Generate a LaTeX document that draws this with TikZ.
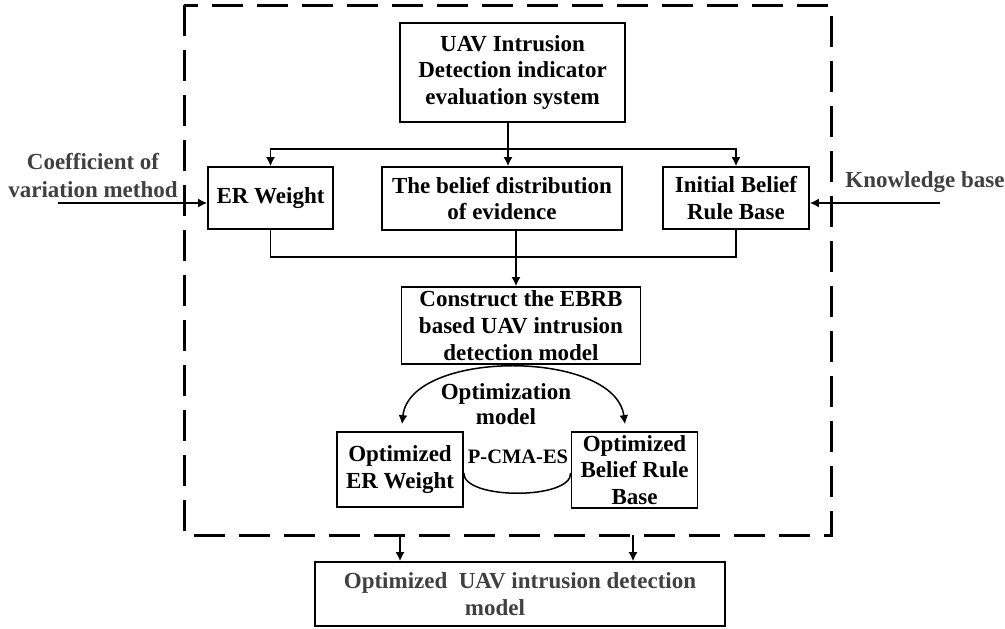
\documentclass[tikz,border=0pt]{standalone}
\usepackage{fontspec}
\setmainfont{Liberation Serif}
\usetikzlibrary{arrows.meta,calc}
\definecolor{txtgray}{HTML}{404040}
\begin{document}
\begin{tikzpicture}[x=1pt,y=-1pt,
  box/.style={draw,line width=1.7pt,inner sep=0pt,align=center,font=\bfseries\fontsize{23}{26.7}\selectfont},
  lbl/.style={inner sep=0pt,align=center,font=\bfseries\fontsize{23}{28}\selectfont},
  tip/.style={Latex[length=9pt,width=9pt]},
  arr/.style={line width=1.5pt,-{Latex[length=9pt,width=9pt]}},
  darr/.style={line width=1.5pt,{Latex[length=9pt,width=9pt]}-{Latex[length=9pt,width=9pt]}},
  ln/.style={line width=1.5pt}]
\useasboundingbox (0,0) rectangle (1005,629);
% dashed frame
\draw[line width=3pt,dash pattern=on 31pt off 14pt] (184,5) rectangle (831,535);
% nodes
\node[box,minimum width=225pt,minimum height=99pt] (uav) at (512.5,72.5) {UAV Intrusion\\Detection indicator\\evaluation system};
\node[box,minimum width=125pt,minimum height=62pt] (er) at (270.5,198) {ER Weight};
\node[box,minimum width=240pt,minimum height=63pt] (belief) at (502,198.5) {The belief distribution\\of evidence};
\node[box,minimum width=146pt,minimum height=62pt] (init) at (736,198) {Initial Belief\\Rule Base};
\node[box,minimum width=239pt,minimum height=77pt] (construct) at (521,325.5) {Construct the EBRB\\based UAV intrusion\\detection model};
\node[box,minimum width=126pt,minimum height=75pt] (opter) at (400,469.5) {Optimized\\ER Weight};
\node[box,minimum width=126pt,minimum height=76pt] (optbrb) at (634.5,470) {Optimized\\Belief Rule\\Base};
\node[box,minimum width=410pt,minimum height=64pt,align=left,text=txtgray] (bottom) at (520,594) {Optimized\ \ UAV intrusion detection\\\hspace*{121pt}model};
% outer labels
\node[lbl,text=txtgray] (coef) at (93,176) {Coefficient of\\variation method};
\node[lbl,text=txtgray] (kb) at (925,182) {Knowledge base};
\node[lbl,font=\bfseries\fontsize{23}{25}\selectfont] (optlbl) at (506,404) {Optimization\\model};
\node[inner sep=0pt,font=\bfseries\fontsize{20.5}{24}\selectfont] (pcma) at (518,457) {P-CMA-ES};
% coordinates
\coordinate (split) at (508,149);
\coordinate (join) at (516,257);
\coordinate (cin) at (58,203);
\coordinate (kin) at (940,203);
\coordinate (d1) at (400,535);
\coordinate (d2) at (633,535);
% connectors
\draw[arr] (uav.south -| split) -- (split |- belief.north);
\draw[darr] (er.north) |- (split) -| (init.north);
\draw[ln] (er.south) |- (join) -| (init.south);
\draw[arr] (belief.south -| join) -- (construct.north -| join);
\draw[arr] (cin) -- (er.west |- cin);
\draw[arr] (kin) -- (init.east |- kin);
\draw[darr]
  ([xshift=2pt,yshift=7pt]opter.north) .. controls (410,349) and (615,349) .. ([xshift=-9.5pt,yshift=7pt]optbrb.north);
\draw[ln] ([yshift=-3.5pt]opter.east) .. controls (463,500) and (572,500) .. ([yshift=-3pt]optbrb.west);
\draw[arr] (d1) -- (d1 |- bottom.north);
\draw[arr] (d2) -- (d2 |- bottom.north);
\end{tikzpicture}
\end{document}
